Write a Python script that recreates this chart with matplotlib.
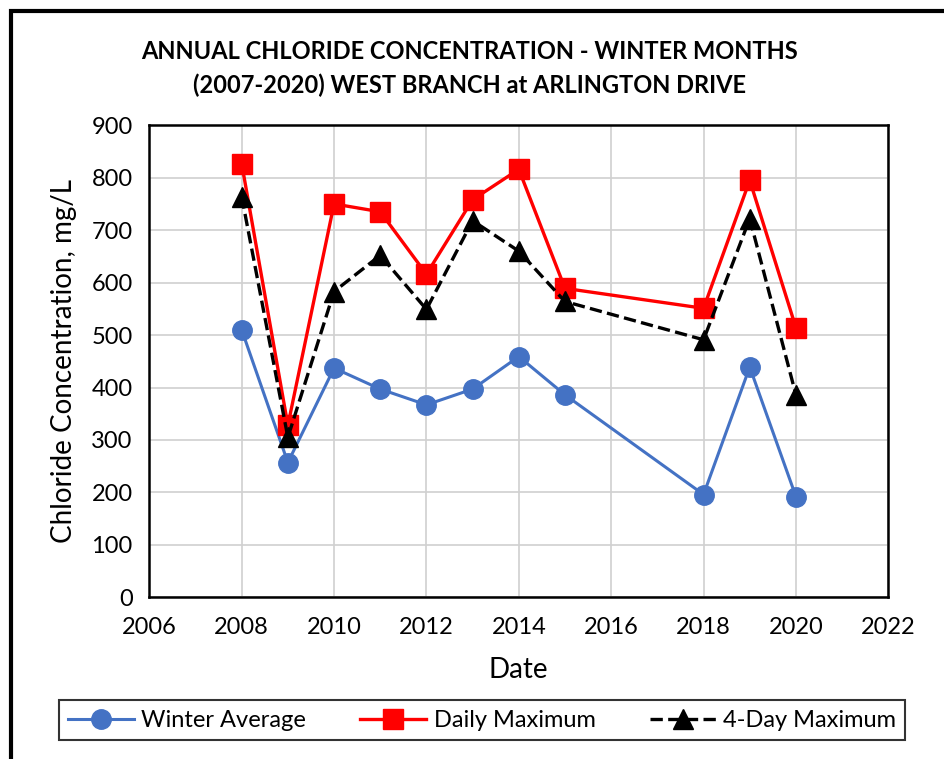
import matplotlib.pyplot as plt
from matplotlib.patches import Rectangle

plt.rcParams['font.family'] = ['Lato', 'DejaVu Sans']

# data
years = [2008, 2009, 2010, 2011, 2012, 2013, 2014, 2015, 2018, 2019, 2020]
winter_avg = [510, 257, 437, 397, 367, 397, 459, 386, 196, 439, 192]
daily_max = [827, 328, 750, 735, 616, 758, 816, 589, 551, 795, 514]
four_day_max = [764, 305, 583, 652, 549, 718, 660, 564, 491, 722, 386]

fig = plt.figure(figsize=(9.45, 7.59), dpi=100)
ax = fig.add_axes([0.158, 0.213, 0.782, 0.622])

ax.plot(years, winter_avg, color='#4472C4', lw=2.2, marker='o', ms=14,
        label='Winter Average')
ax.plot(years, daily_max, color='#FF0000', lw=2.4, marker='s', ms=15,
        label='Daily Maximum')
ax.plot(years, four_day_max, color='black', lw=2.4, ls='--', marker='^', ms=14,
        label='4-Day Maximum')

ax.set_xlim(2006, 2022)
ax.set_ylim(0, 900)
ax.set_xticks(range(2006, 2023, 2))
ax.set_yticks(range(0, 901, 100))
ax.grid(True, color='#d0d0d0', lw=1.2)
ax.set_axisbelow(True)
ax.tick_params(length=0, labelsize=17)
ax.tick_params(axis='x', pad=14)
ax.tick_params(axis='y', pad=12)
for s in ax.spines.values():
    s.set_linewidth(1.8)
    s.set_color('black')

ax.set_xlabel('Date', fontsize=20, labelpad=14)
ax.set_ylabel('Chloride Concentration, mg/L', fontsize=20, labelpad=10)
fig.text(0.497, 0.91, 'ANNUAL CHLORIDE CONCENTRATION - WINTER MONTHS\n(2007-2020) WEST BRANCH at ARLINGTON DRIVE',
         ha='center', va='center', fontsize=17, fontweight='bold', linespacing=1.55)

leg = fig.legend(loc='center', bbox_to_anchor=(0.51, 0.051), ncol=3, fontsize=17,
                 frameon=True, fancybox=False, edgecolor='black',
                 handlelength=2.8, columnspacing=2.3, borderpad=0.4, handletextpad=0.3)
leg.get_frame().set_linewidth(1.5)

fig.patches.append(Rectangle((0.012, -0.01), 0.99, 0.995, transform=fig.transFigure,
                             fill=False, lw=3, edgecolor='black'))

fig.savefig('out.png', dpi=100)
